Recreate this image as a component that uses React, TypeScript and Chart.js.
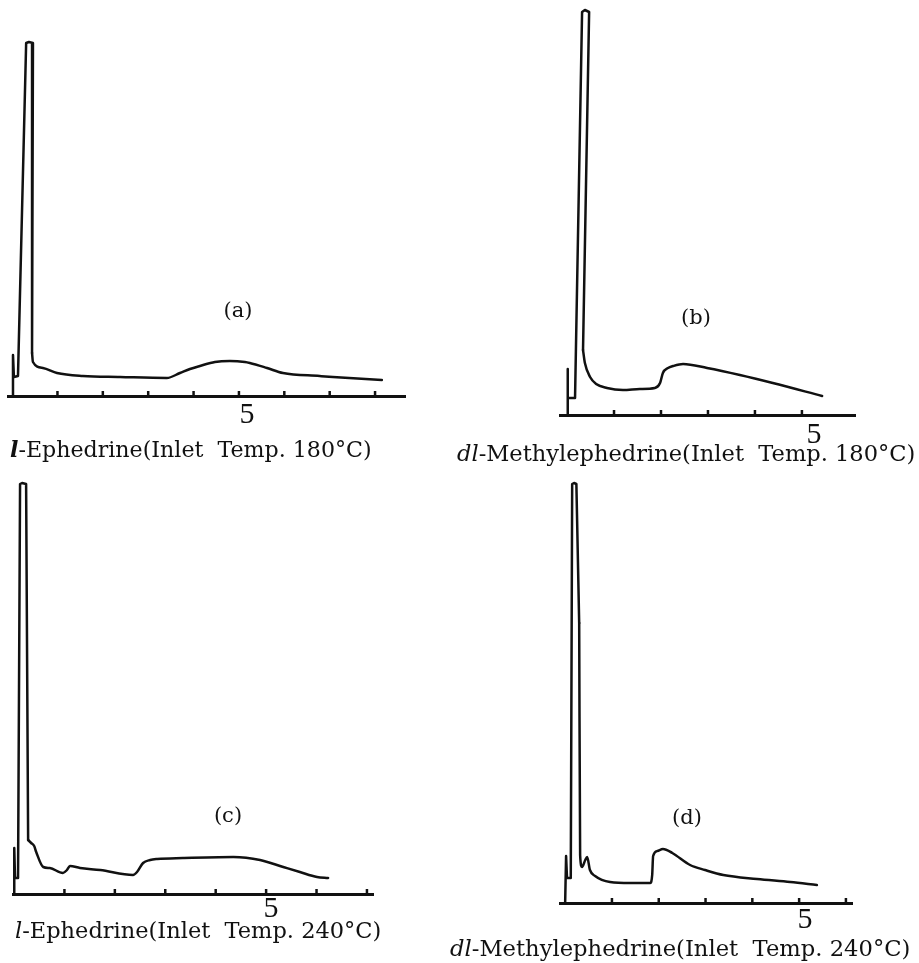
import React, { useEffect, useLayoutEffect, useRef } from "react";
import { Chart, registerables } from "chart.js";

Chart.register(...registerables);

// ---- Data (time in minutes, recorder response in chart-paper units) ----
// (a) l-Ephedrine, inlet 180°C
const aTime = [0, 0.02, 0.04, 0.13, 0.31, 0.37, 0.46, 0.44, 0.46, 0.68, 0.99, 1.56, 2.38, 3.41, 3.7, 3.92, 4.14, 4.47, 4.8, 5.13, 5.24, 5.62, 5.97, 6.78, 7.07, 8.15];
const aSignal = [0, 41, 19, 20, 353, 354, 353, 43, 34, 28, 23, 20, 19, 18, 23, 27, 30, 34, 35, 34, 33, 28, 23, 20, 19, 16];
// (b) dl-Methylephedrine, inlet 180°C
const bTime = [0, 0.01, 0.02, 0.17, 0.32, 0.38, 0.47, 0.34, 0.38, 0.49, 0.62, 0.85, 1.19, 1.55, 1.87, 1.98, 2.04, 2.15, 2.26, 2.47, 2.98, 3.68, 4.38, 5.43];
const bSignal = [0, 46, 17, 17, 403, 405, 403, 65, 52, 38, 31, 27, 25, 26, 27, 32, 42, 47, 49, 51, 47, 40, 32, 19];
// (c) l-Ephedrine, inlet 240°C
const cTime = [0, 0.005, 0.02, 0.08, 0.12, 0.16, 0.24, 0.28, 0.34, 0.4, 0.44, 0.58, 0.71, 0.97, 1.05, 1.11, 1.31, 1.71, 2.36, 2.44, 2.56, 2.7, 2.84, 3.35, 4.35, 4.88, 5.34, 5.67, 6.01, 6.23];
const cSignal = [0, 46, 16, 16, 410, 411, 410, 54, 51, 48, 42, 27, 26, 21, 24, 28, 26, 24, 19, 22, 31, 34, 35, 36, 37, 34, 27, 22, 17, 16];
// (d) dl-Methylephedrine, inlet 240°C
const dTime = [0, 0.02, 0.04, 0.12, 0.15, 0.19, 0.24, 0.3, 0.32, 0.36, 0.43, 0.47, 0.53, 0.64, 0.96, 1.39, 1.82, 1.86, 1.88, 1.97, 2.09, 2.29, 2.67, 2.99, 3.38, 4.1, 4.81, 5.38];
const dSignal = [0, 47, 25, 25, 419, 420, 419, 280, 48, 36, 43, 46, 33, 27, 21, 20, 20, 28, 47, 52, 54, 50, 38, 33, 28, 24, 21, 18];

// index where the solvent peak's trailing side begins (the tail is drawn smoothed)
const tailStart = [7, 7, 7, 7];

// minute marks on each time axis, and the labelled minute
const aTicks = [1, 2, 3, 4, 5, 6, 7, 8];
const bTicks = [1, 2, 3, 4, 5];
const cTicks = [1, 2, 3, 4, 5, 6, 7];
const dTicks = [1, 2, 3, 4, 5, 6];
const labelledMinute = 5;

const panelLetters = ["(a)", "(b)", "(c)", "(d)"];
const compounds = ["l", "dl", "l", "dl"];
const compoundRest = ["-Ephedrine", "-Methylephedrine", "-Ephedrine", "-Methylephedrine"];
const inletTemps = ["180°C", "180°C", "240°C", "240°C"];

type PanelCfg = {
  time: number[];
  signal: number[];
  ticks: number[];
  tail: number;
  left: number;
  top: number;
  width: number;
  height: number;
  padL: number;
  padR: number;
  padT: number;
  xMin: number;
  xMax: number;
  yMax: number;
  labelPad: number;
  labelOffset: number;
};

const AXIS_H = 45;
const TICK_H = 5;

const panels: PanelCfg[] = [
  { time: aTime, signal: aSignal, ticks: aTicks, tail: tailStart[0], left: 0, top: 0, width: 420, height: 396 + AXIS_H, padL: 8, padR: 15, padT: 20, xMin: -0.09, xMax: 8.66, yMax: 376, labelPad: 1, labelOffset: 8 },
  { time: bTime, signal: bSignal, ticks: bTicks, tail: tailStart[1], left: 540, top: 0, width: 379, height: 415 + AXIS_H, padL: 20, padR: 64, padT: 5, xMin: -0.15, xMax: 6.13, yMax: 410, labelPad: 2, labelOffset: 12 },
  { time: cTime, signal: cSignal, ticks: cTicks, tail: tailStart[2], left: 0, top: 460, width: 420, height: 894 - 460 + AXIS_H, padL: 13, padR: 47, padT: 10, xMin: -0.02, xMax: 7.12, yMax: 424, labelPad: -3, labelOffset: 5 },
  { time: dTime, signal: dSignal, ticks: dTicks, tail: tailStart[3], left: 540, top: 460, width: 379, height: 903 - 460 + AXIS_H, padL: 20, padR: 67, padT: 10, xMin: -0.11, xMax: 6.13, yMax: 433, labelPad: -1, labelOffset: 6 },
];

const letterPos = [
  { x: 238, y: 310 },
  { x: 696, y: 317 },
  { x: 228, y: 815 },
  { x: 687, y: 817 },
];

const captionPos = [
  { x: 10, top: 438, w: 362, bold: true },
  { x: 457, top: 443, w: 458, bold: false },
  { x: 15, top: 920, w: 366, bold: false },
  { x: 450, top: 938, w: 460, bold: false },
];

const lineStyle = {
  showLine: true,
  borderColor: "#111",
  backgroundColor: "#111",
  borderWidth: 2.5,
  pointRadius: 0,
  pointHoverRadius: 0,
  fill: false,
  clip: false,
  borderJoinStyle: "round",
  borderCapStyle: "round",
};

function ChromPanel({ cfg }: { cfg: PanelCfg }) {
  const ref = useRef<HTMLCanvasElement | null>(null);
  useEffect(() => {
    if (!ref.current) return;
    const pts = cfg.time.map((t, i) => ({ x: t, y: cfg.signal[i] }));
    const head = pts.slice(0, cfg.tail + 1);
    const tail = pts.slice(cfg.tail);
    const tickPts = cfg.ticks.map((t) => ({ x: t, y: TICK_H / 2 }));
    const chart = new Chart(ref.current, {
      type: "scatter",
      data: {
        datasets: [
          { ...lineStyle, data: head, tension: 0 } as any,
          { ...lineStyle, data: tail, cubicInterpolationMode: "monotone" } as any,
          {
            data: tickPts,
            showLine: false,
            pointStyle: "line",
            rotation: 90,
            pointRadius: TICK_H / 2,
            pointHoverRadius: TICK_H / 2,
            borderColor: "#111",
            backgroundColor: "#111",
            borderWidth: 2.5,
            clip: false,
          } as any,
        ],
      },
      options: {
        animation: false,
        responsive: false,
        maintainAspectRatio: false,
        events: [],
        layout: { padding: { left: cfg.padL, right: cfg.padR, top: cfg.padT, bottom: 0 } },
        plugins: { legend: { display: false }, tooltip: { enabled: false }, title: { display: false } },
        scales: {
          x: {
            type: "linear",
            position: "bottom",
            min: cfg.xMin,
            max: cfg.xMax,
            border: { display: true, color: "#111", width: 3 },
            grid: { display: false, drawTicks: false },
            ticks: {
              stepSize: 1,
              includeBounds: false,
              autoSkip: false,
              maxRotation: 0,
              minRotation: 0,
              padding: cfg.labelPad,
              labelOffset: cfg.labelOffset,
              color: "#111",
              font: { family: "'Liberation Serif', serif", size: 30 },
              callback: (v: any) => (Number(v) === labelledMinute ? String(labelledMinute) : ""),
            },
            afterFit: (s: any) => {
              s.height = AXIS_H;
            },
          } as any,
          y: { display: false, min: 0, max: cfg.yMax },
        },
      },
    });
    return () => chart.destroy();
  }, [cfg]);
  return (
    <canvas
      ref={ref}
      width={cfg.width}
      height={cfg.height}
      style={{ position: "absolute", left: cfg.left, top: cfg.top, width: cfg.width, height: cfg.height }}
    />
  );
}

function Caption({ i }: { i: number }) {
  const ref = useRef<HTMLSpanElement | null>(null);
  const p = captionPos[i];
  useLayoutEffect(() => {
    const el = ref.current;
    if (!el) return;
    const w = el.offsetWidth;
    if (w > 0) el.style.transform = `scaleX(${p.w / w})`;
  }, [i]);
  return (
    <span
      ref={ref}
      style={{
        position: "absolute",
        left: p.x,
        top: p.top,
        display: "inline-block",
        whiteSpace: "pre",
        fontFamily: "'DejaVu Serif', serif",
        fontSize: 22,
        lineHeight: 1,
        color: "#111",
        transformOrigin: "0 0",
        zIndex: 2,
      }}
    >
      <i style={{ fontWeight: p.bold ? 700 : 400 }}>{compounds[i]}</i>
      {compoundRest[i]}
      {"(Inlet  Temp. " + inletTemps[i] + ")"}
    </span>
  );
}

export default function App() {
  useEffect(() => {
    document.body.style.margin = "0";
    document.body.style.background = "#fff";
  }, []);
  return (
    <div style={{ position: "absolute", left: 0, top: 0, width: 919, height: 963, background: "#fff", overflow: "hidden" }}>
      {panels.map((cfg, i) => (
        <ChromPanel key={i} cfg={cfg} />
      ))}
      {panelLetters.map((t, i) => (
        <div
          key={"l" + i}
          style={{
            position: "absolute",
            left: letterPos[i].x - 30,
            top: letterPos[i].y - 13,
            width: 60,
            textAlign: "center",
            fontFamily: "'DejaVu Serif', serif",
            fontSize: 21,
            lineHeight: "26px",
            color: "#111",
            zIndex: 2,
          }}
        >
          {t}
        </div>
      ))}
      {panelLetters.map((_, i) => (
        <Caption key={"c" + i} i={i} />
      ))}
    </div>
  );
}
